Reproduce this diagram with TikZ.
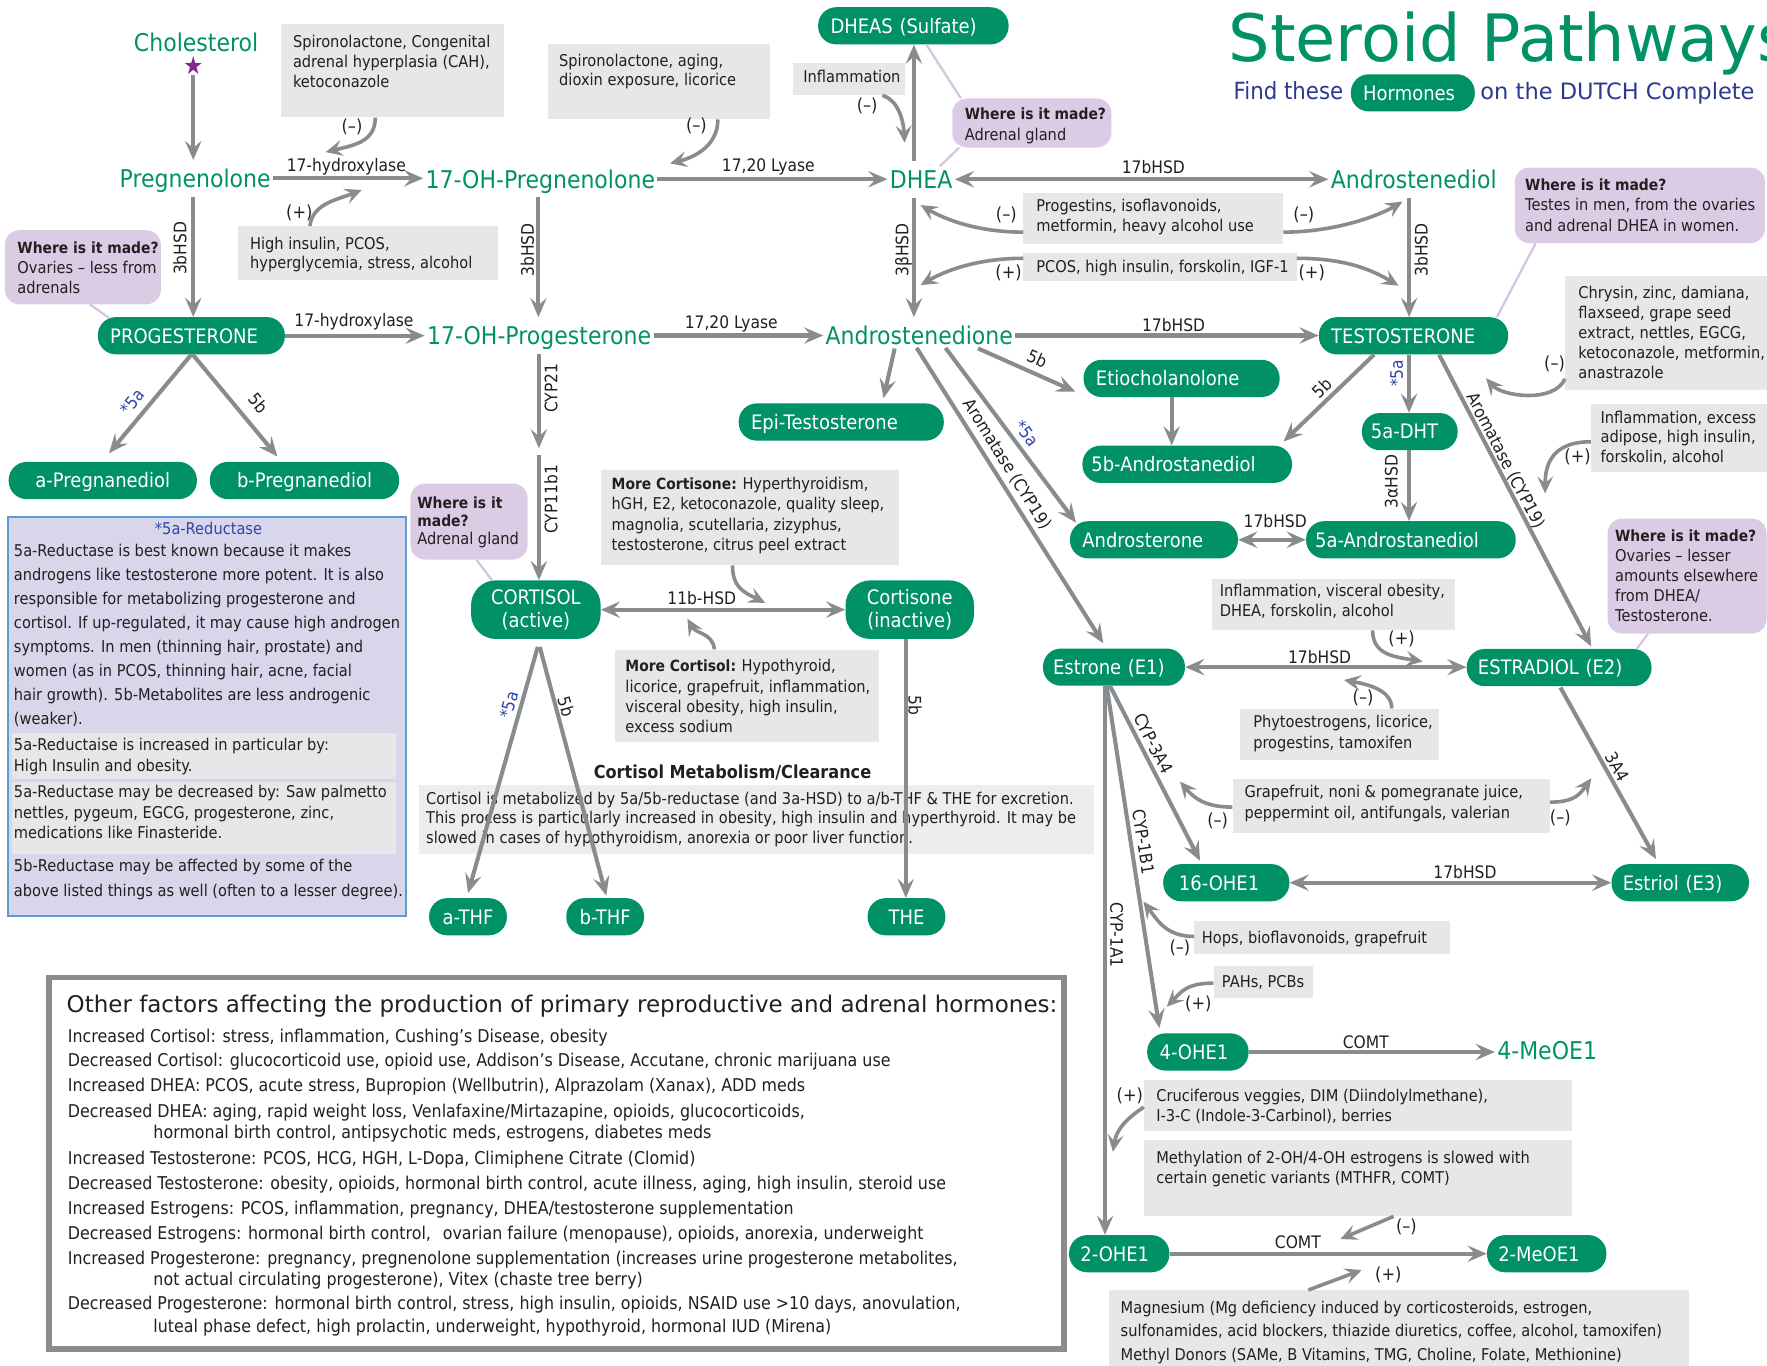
\documentclass[tikz,border=0pt]{standalone}
\usepackage{fontspec}
\setmainfont{DejaVu Sans}[FakeStretch=0.9]
\newfontfamily\widefont{DejaVu Sans}
\usetikzlibrary{arrows.meta}
\definecolor{dgreen}{RGB}{0,146,102}
\definecolor{agray}{RGB}{137,140,143}
\definecolor{boxgray}{RGB}{230,231,232}
\definecolor{boxgraylt}{RGB}{237,237,237}
\definecolor{lpurple}{RGB}{220,203,229}
\definecolor{ppline}{RGB}{214,196,227}
\definecolor{bfill}{RGB}{216,214,234}
\definecolor{bborder}{RGB}{91,155,213}
\definecolor{dblue}{RGB}{43,57,144}
\definecolor{lblue}{RGB}{46,70,170}
\definecolor{starpurple}{RGB}{128,40,140}
\definecolor{framegray}{RGB}{140,140,140}
\definecolor{txt}{RGB}{35,31,32}
\newcommand\fsz[2]{\fontsize{#1}{#2}\selectfont}
\newcommand\lns[1]{\begin{tabular}[t]{@{}l@{}}#1\end{tabular}}
\newcommand\wim{{\fontsize{13.7}{17}\selectfont\bfseries Where is it made?}}
\newcommand\bld[1]{{\fontsize{13.7}{17}\selectfont\bfseries #1}}
\tikzset{
  gtext/.style={anchor=base, text=dgreen, font=\fsz{21.7}{24}, inner xsep=2pt, inner ysep=2pt, text height=22pt, text depth=6pt},
  pillbase/.style={fill=dgreen, text=white, font=\fsz{17.7}{20}, inner xsep=11pt, inner ysep=0pt, rounded corners=16pt, minimum height=33pt},
  pill/.style={pillbase, align=left, text height=15pt, text depth=2pt},
  pillc/.style={pillbase, align=center, text height=15pt, text depth=2pt},
  pilltwo/.style={pillbase, align=center, minimum height=52pt, rounded corners=22pt},
  arr/.style={draw=agray, line width=3.6pt, ->},
  darr/.style={draw=agray, line width=3.6pt, <->},
  marr/.style={draw=agray, line width=3.2pt, >={Stealth[length=15pt,width=14pt,inset=6pt]}, ->},
  lbl/.style={text=txt, font=\fsz{15.3}{17}, inner sep=0pt},
  blbl/.style={lbl, text=lblue},
  sgn/.style={text=txt, font=\fsz{16}{18}, inner sep=0pt},
  bg/.style={fill=boxgray, anchor=north west, inner sep=0pt},
  pbg/.style={fill=lpurple, anchor=north west, inner sep=0pt, rounded corners=13pt},
  btx/.style={text=txt, anchor=base west, inner sep=0pt, font=\fsz{14.4}{17.7}},
  ftx/.style={text=txt, anchor=base west, inner sep=0pt, font=\fsz{15.65}{19}},
  pline/.style={draw=ppline, line width=2pt},
}
\begin{document}
\begin{tikzpicture}[x=1pt,y=-1pt,>={Stealth[length=17pt,width=14.5pt,inset=6.5pt]}]
\useasboundingbox (0,0) rectangle (1568,1212);
\fill[white] (0,0) rectangle (1568,1212);

% ---------- title ----------
\node[anchor=base west, inner sep=0pt, text=dgreen, font=\widefont\fsz{58}{60}] (title) at (1090,54.7) {Steroid Pathways};
\node[anchor=base west, inner sep=0pt, text=dblue, font=\fsz{21}{24}] (subA) at (1094.5,88.7) {Find these};
\node[pill, text width=88pt] (horm) at (1253.7,82.4) {Hormones};
\node[anchor=base west, inner sep=0pt, text=dblue, font=\widefont\fsz{20}{24}] (subB) at (1313.5,88.7) {on the DUTCH Complete};

% ---------- frames ----------
\node[draw=framegray, line width=5pt, anchor=north west, inner sep=0pt, minimum width=900.5pt, minimum height=329.5pt] (fbox) at (41,865) {};
\node[draw=bborder, line width=2pt, fill=bfill, anchor=north west, inner sep=0pt, minimum width=353pt, minimum height=354pt] (bluebox) at (6.1,458) {};
\node[bg, minimum width=341.3pt, minimum height=40.7pt] (rb1) at (10.2,650) {};
\node[bg, minimum width=341.3pt, minimum height=64.2pt] (rb2) at (10.2,693.6) {};

% ---------- gray boxes ----------
\node[bg, minimum width=198pt, minimum height=83pt] (g1) at (249,21) {};
\node[bg, minimum width=197.5pt, minimum height=66.6pt] (g2) at (486,39) {};
\node[bg, minimum width=99.5pt, minimum height=29pt] (g3) at (703.2,55.3) {};
\node[bg, minimum width=231pt, minimum height=47.4pt] (g4) at (210.6,200.5) {};
\node[bg, minimum width=230.4pt, minimum height=45.2pt] (g5) at (908,170.7) {};
\node[bg, minimum width=242.3pt, minimum height=25.1pt] (g6) at (908,223.9) {};
\node[bg, minimum width=180pt, minimum height=101pt] (g7) at (1388.7,244.6) {};
\node[bg, minimum width=157pt, minimum height=60.7pt] (g8) at (1411.7,357.9) {};
\node[bg, minimum width=264.3pt, minimum height=84.9pt] (g9) at (533.3,416.5) {};
\node[bg, minimum width=234.4pt, minimum height=82pt] (g10) at (545.2,576.2) {};
\node[bg, fill=boxgraylt, minimum width=599pt, minimum height=61.2pt] (g11) at (372,696.6) {};
\node[bg, minimum width=216pt, minimum height=45.8pt] (g12) at (1075,513.2) {};
\node[bg, minimum width=176.3pt, minimum height=45.8pt] (g13) at (1100.4,628.6) {};
\node[bg, minimum width=281.4pt, minimum height=48.3pt] (g14) at (1093.6,690.7) {};
\node[bg, minimum width=227.1pt, minimum height=29.3pt] (g15) at (1059.6,817.3) {};
\node[bg, minimum width=88.2pt, minimum height=28.7pt] (g16) at (1076.7,856.6) {};
\node[bg, minimum width=380pt, minimum height=45pt] (g17) at (1015,958.4) {};
\node[bg, minimum width=380pt, minimum height=67.4pt] (g18) at (1015,1011.6) {};
\node[bg, minimum width=515.1pt, minimum height=75pt] (g19) at (983.7,1144.7) {};

% ---------- purple boxes ----------
\node[pbg, minimum width=138.5pt, minimum height=65.7pt] (p1) at (4.1,204.1) {};
\node[pbg, minimum width=141.2pt, minimum height=43.5pt] (p2) at (844.8,87.2) {};
\node[pbg, minimum width=222pt, minimum height=67pt] (p3) at (1344,148.5) {};
\node[pbg, minimum width=104pt, minimum height=67.4pt] (p4) at (364,428.9) {};
\node[pbg, minimum width=141pt, minimum height=102pt] (p5) at (1426.4,460) {};

% ---------- box texts ----------
\node[btx] (g1t) at (259.8,42.4) {\lns{Spironolactone, Congenital\\adrenal hyperplasia (CAH),\\ketoconazole}};
\node[btx, font=\fsz{14.4}{17}] (g2t) at (496,58.6) {\lns{Spironolactone, aging,\\dioxin exposure, licorice}};
\node[btx] (g3t) at (712.7,73.5) {Inflammation};
\node[btx] (g4t) at (221.8,221) {\lns{High insulin, PCOS,\\hyperglycemia, stress, alcohol}};
\node[btx] (g5t) at (919.5,187.9) {\lns{Progestins, isoflavonoids,\\metformin, heavy alcohol use}};
\node[btx] (g6t) at (919.5,242) {PCOS, high insulin, forskolin, IGF-1};
\node[btx] (g7t) at (1400.5,264.8) {\lns{Chrysin, zinc, damiana,\\flaxseed, grape seed\\extract, nettles, EGCG,\\ketoconazole, metformin,\\anastrazole}};
\node[btx, font=\fsz{14.4}{17.3}] (g8t) at (1420.1,375.7) {\lns{Inflammation, excess\\adipose, high insulin,\\forskolin, alcohol}};
\node[btx, font=\fsz{14.4}{18.2}] (g9t) at (542.6,434.3) {\lns{\bld{More Cortisone:}\hspace{5pt}Hyperthyroidism,\\hGH, E2, ketoconazole, quality sleep,\\magnolia, scutellaria, zizyphus,\\testosterone, citrus peel extract}};
\node[btx, font=\fsz{14.4}{18}] (g10t) at (554.8,596.1) {\lns{\bld{More Cortisol:}\hspace{5pt}Hypothyroid,\\licorice, grapefruit, inflammation,\\visceral obesity, high insulin,\\excess sodium}};
\node[btx, font=\fsz{14.4}{17.5}] (g11t) at (378,713.5) {\lns{Cortisol is metabolized by 5a/5b-reductase (and 3a-HSD) to a/b-THF \& THE for excretion.\\This process is particularly increased in obesity, high insulin and hyperthyroid. It may be\\slowed in cases of hypothyroidism, anorexia or poor liver function.}};
\node[btx] (g12t) at (1082.2,529.5) {\lns{Inflammation, visceral obesity,\\DHEA, forskolin, alcohol}};
\node[btx, font=\fsz{14.4}{18.3}] (g13t) at (1111.9,645.8) {\lns{Phytoestrogens, licorice,\\progestins, tamoxifen}};
\node[btx, font=\fsz{14.4}{18.3}] (g14t) at (1104.2,707.9) {\lns{Grapefruit, noni \& pomegranate juice,\\peppermint oil, antifungals, valerian}};
\node[btx] (g15t) at (1066.4,837.2) {Hops, bioflavonoids, grapefruit};
\node[btx] (g16t) at (1084.1,876.5) {PAHs, PCBs};
\node[btx] (g17t) at (1025.9,977.7) {\lns{Cruciferous veggies, DIM (Diindolylmethane),\\I-3-C (Indole-3-Carbinol), berries}};
\node[btx] (g18t) at (1025.9,1032.4) {\lns{Methylation of 2-OH/4-OH estrogens is slowed with\\certain genetic variants (MTHFR, COMT)}};
\node[btx, font=\fsz{14.4}{20.7}] (g19t) at (994.3,1165.5) {\lns{Magnesium (Mg deficiency induced by corticosteroids, estrogen,\\sulfonamides, acid blockers, thiazide diuretics, coffee, alcohol, tamoxifen)\\Methyl Donors (SAMe, B Vitamins, TMG, Choline, Folate, Methionine)}};

\node[btx, font=\fsz{14.4}{17.75}] (p1t) at (15.3,224.9) {\lns{\wim\\Ovaries – less from\\adrenals}};
\node[btx, font=\fsz{14.4}{18.6}] (p2t) at (856,105.7) {\lns{\wim\\Adrenal gland}};
\node[btx, font=\fsz{14.4}{17.85}] (p3t) at (1353.2,169.3) {\lns{\wim\\Testes in men, from the ovaries\\and adrenal DHEA in women.}};
\node[btx, font=\fsz{14.4}{16}] (p4t) at (370.2,451.2) {\lns{\bld{Where is it}\\\bld{made?}\\Adrenal gland}};
\node[btx, font=\fsz{14.4}{17.9}] (p5t) at (1433,480.1) {\lns{\wim\\Ovaries – lesser\\amounts elsewhere\\from DHEA/\\Testosterone.}};

\node[anchor=base, inner sep=0pt, text=lblue, font=\fsz{14.4}{17}] (btitle) at (185,474) {*5a-Reductase};
\node[btx, font=\fsz{14.4}{21.26}] (bt1) at (12.2,494) {\lns{5a-Reductase is best known because it makes\\androgens like testosterone more potent. It is also\\responsible for metabolizing progesterone and\\cortisol. If up-regulated, it may cause high androgen\\symptoms. In men (thinning hair, prostate) and\\women (as in PCOS, thinning hair, acne, facial\\hair growth). 5b-Metabolites are less androgenic\\(weaker).}};
\node[btx, font=\fsz{14.4}{18.1}] (bt2) at (12.2,666.2) {\lns{5a-Reductaise is increased in particular by:\\High Insulin and obesity.}};
\node[btx, font=\fsz{14.4}{18.3}] (bt3) at (12.2,707.9) {\lns{5a-Reductase may be decreased by: Saw palmetto\\nettles, pygeum, EGCG, progesterone, zinc,\\medications like Finasteride.}};
\node[btx, font=\fsz{14.4}{22.3}] (bt4) at (12.2,773.5) {\lns{5b-Reductase may be affected by some of the\\above listed things as well (often to a lesser degree).}};

\node[anchor=base, inner sep=0pt, text=txt, font=\fsz{15.9}{18}\bfseries] (cmhead) at (650,690.5) {Cortisol Metabolism/Clearance};

% ---------- factors list ----------
\node[anchor=base west, inner sep=0pt, text=txt, font=\widefont\fsz{20.4}{22}] (fhead) at (59,898.6) {Other factors affecting the production of primary reproductive and adrenal hormones:};
\node[ftx] (f1) at (60.1,925.3) {Increased Cortisol: stress, inflammation, Cushing’s Disease, obesity};
\node[ftx] (f2) at (60.1,946.6) {Decreased Cortisol: glucocorticoid use, opioid use, Addison’s Disease, Accutane, chronic marijuana use};
\node[ftx] (f3) at (60.1,969) {Increased DHEA: PCOS, acute stress, Bupropion (Wellbutrin), Alprazolam (Xanax), ADD meds};
\node[ftx] (f4) at (60.1,991.2) {Decreased DHEA: aging, rapid weight loss, Venlafaxine/Mirtazapine, opioids, glucocorticoids,};
\node[ftx] (f5) at (136,1010.1) {hormonal birth control, antipsychotic meds, estrogens, diabetes meds};
\node[ftx] (f6) at (60.1,1033.2) {Increased Testosterone: PCOS, HCG, HGH, L-Dopa, Climiphene Citrate (Clomid)};
\node[ftx] (f7) at (60.1,1055.3) {Decreased Testosterone: obesity, opioids, hormonal birth control, acute illness, aging, high insulin, steroid use};
\node[ftx] (f8) at (60.1,1077.6) {Increased Estrogens: PCOS, inflammation, pregnancy, DHEA/testosterone supplementation};
\node[ftx] (f9) at (60.1,1099.7) {Decreased Estrogens: hormonal birth control,\hspace{6pt} ovarian failure (menopause), opioids, anorexia, underweight};
\node[ftx] (f10) at (60.1,1121.9) {Increased Progesterone: pregnancy, pregnenolone supplementation (increases urine progesterone metabolites,};
\node[ftx] (f11) at (136,1140.5) {not actual circulating progesterone), Vitex (chaste tree berry)};
\node[ftx] (f12) at (60.1,1161.9) {Decreased Progesterone: hormonal birth control, stress, high insulin, opioids, NSAID use >10 days, anovulation,};
\node[ftx] (f13) at (136,1182) {luteal phase defect, high prolactin, underweight, hypothyroid, hormonal IUD (Mirena)};

% ---------- green text hormones ----------
\node[gtext] (chol) at (174,46) {Cholesterol};
\node[text=starpurple, font=\fsz{22}{22}, inner sep=0pt] (star) at (171.5,58.3) {★};
\node[gtext] (preg) at (173.2,166.2) {Pregnenolone};
\node[gtext] (ohpreg) at (479.5,167) {17-OH-Pregnenolone};
\node[gtext] (dhea) at (817.4,167.1) {DHEA};
\node[gtext] (adiol) at (1254.5,167.1) {Androstenediol};
\node[gtext] (ohprog) at (478.4,305.7) {17-OH-Progesterone};
\node[gtext] (adione) at (815.7,305.7) {Androstenedione};
\node[gtext] (meoe4) at (1372.9,940.6) {4-MeOE1};

% ---------- pills ----------
\node[pill, text width=147pt] (dheas) at (810.5,22.9) {DHEAS (Sulfate)};
\node[pill, text width=144pt] (prog) at (169.8,297.9) {PROGESTERONE};
\node[pillc, text width=145pt] (apreg) at (91.2,426.4) {a-Pregnanediol};
\node[pillc, text width=146pt] (bpreg) at (270.2,426.4) {b-Pregnanediol};
\node[pill, text width=146pt] (testo) at (1254.3,298) {TESTOSTERONE};
\node[pill, text width=152pt] (etio) at (1048.5,335.8) {Etiocholanolone};
\node[pill, text width=160pt] (epit) at (746.5,374.5) {Epi-Testosterone};
\node[pill, inner xsep=8pt, text width=170pt] (bandro) at (1053.5,412) {5b-Androstanediol};
\node[pill, inner xsep=8pt, text width=69pt] (dht) at (1251,383) {5a-DHT};
\node[pill, text width=127pt] (andro) at (1024,479) {Androsterone};
\node[pill, inner xsep=8pt, text width=170pt] (aandro) at (1252,479) {5a-Androstanediol};
\node[pilltwo, text width=93pt] (cortisol) at (475.5,541) {CORTISOL\\(active)};
\node[pilltwo, text width=92pt] (cortisone) at (807.3,541) {Cortisone\\(inactive)};
\node[pill, inner xsep=9pt, text width=108pt] (e1) at (988.5,592) {Estrone (E1)};
\node[pill, inner xsep=10pt, text width=144pt] (e2) at (1383.5,592.4) {ESTRADIOL (E2)};
\node[pill, inner xsep=14pt, text width=84pt] (ohe16) at (1088.2,783.3) {16-OHE1};
\node[pill, inner xsep=10pt, text width=102pt] (e3) at (1491,783.3) {Estriol (E3)};
\node[pillc, inner xsep=5pt, text width=59pt] (athf) at (415.3,813.5) {a-THF};
\node[pillc, inner xsep=5pt, text width=59pt] (bthf) at (537,813.5) {b-THF};
\node[pillc, inner xsep=5pt, text width=59pt] (thenode) at (804.4,813.5) {THE};
\node[pill, text width=68pt] (ohe4) at (1063,933.5) {4-OHE1};
\node[pill, inner xsep=10pt, text width=69pt] (ohe2) at (993.2,1112.5) {2-OHE1};
\node[pill, inner xsep=10pt, text width=86pt] (meoe2) at (1372.5,1112.5) {2-MeOE1};

% ---------- pointer lines ----------
\draw[pline] ([xshift=75.7pt]p1.south west) -- ([xshift=10.2pt,yshift=-0.9pt]prog.north west);
\draw[pline] ([xshift=11.5pt]dheas.south) -- ([xshift=7.8pt]p2.north west);
\draw[pline] ([xshift=6.2pt]p2.south west) -- ([xshift=16.5pt,yshift=-4.8pt]dhea.north);
\draw[pline] ([xshift=18.7pt]p3.south west) -- ([xshift=74pt]testo.north);
\draw[pline] ([xshift=58.8pt]p4.south west) -- ([xshift=-39pt]cortisol.north);
\draw[pline] ([xshift=36pt]p5.south west) -- ([xshift=69pt]e2.north);

% ---------- main arrows ----------
\draw[arr] (star.south) -- (star.south |- preg.north);
\draw[arr] (preg.east) -- (preg.east -| ohpreg.west);
\draw[arr] (ohpreg.east) -- (ohpreg.east -| dhea.west);
\draw[darr] (dhea.east) -- (dhea.east -| adiol.west);
\draw[arr] ([xshift=-1.7pt]preg.south) -- ([xshift=-1.7pt]preg.south |- prog.north);
\draw[arr] ([xshift=-1.7pt]ohpreg.south) -- ([xshift=-1.7pt]ohpreg.south |- ohprog.north);
\draw[arr] ([xshift=-6.4pt]dhea.south) -- ([xshift=-6.4pt]dhea.south |- adione.north);
\draw[arr] ([xshift=-6.4pt]dhea.north) -- ([xshift=-6.4pt]dhea.north |- dheas.south);
\draw[arr] ([xshift=-4.1pt]adiol.south) -- ([xshift=-4.1pt]adiol.south |- testo.north);
\draw[arr] (prog.east) -- (prog.east -| ohprog.west);
\draw[arr] (ohprog.east) -- (ohprog.east -| adione.west);
\draw[arr] (adione.east) -- (adione.east -| testo.west);
\draw[arr] (prog.south) -- ([xshift=5.6pt,yshift=7.6pt]apreg.north);
\draw[arr] ([xshift=1.2pt]prog.south) -- ([xshift=-24pt,yshift=4.6pt]bpreg.north);
\coordinate (c21) at (478.2,397.8);
\coordinate (c11) at (478.2,404);
\draw[arr] ([xshift=-0.2pt]ohprog.south) -- (c21);
\draw[arr] (c11) -- (c11 |- cortisol.north);
\draw[darr] (cortisol.east) -- (cortisol.east -| cortisone.west);
\draw[arr] ([xshift=1.7pt,yshift=-6.8pt]cortisol.south) -- ([yshift=4.3pt]athf.north);
\draw[arr] ([xshift=3.5pt,yshift=-7pt]cortisol.south) -- ([xshift=1pt,yshift=2pt]bthf.north);
\draw[arr] ([xshift=-3.5pt]cortisone.south) -- ([xshift=-3.5pt]cortisone.south |- thenode.north);
\draw[arr] ([xshift=-21.8pt,yshift=4.6pt]adione.south) -- ([xshift=37.5pt,yshift=4.5pt]epit.north);
\draw[arr] ([xshift=52.2pt,yshift=4.7pt]adione.south) -- ([xshift=-7pt,yshift=-11.8pt]etio.west);
\draw[arr] ([xshift=23.3pt,yshift=5.2pt]adione.south) -- ([xshift=5.5pt,yshift=-1.5pt]andro.north west);
\draw[arr] ([xshift=-2.3pt,yshift=5.2pt]adione.south) -- ([xshift=-9.5pt,yshift=4.5pt]e1.north);
\draw[arr] ([xshift=-8.8pt]etio.south) -- ([xshift=-8.8pt]etio.south |- bandro.north);
\draw[arr] ([xshift=-35pt]testo.south) -- ([xshift=85.5pt,yshift=3.5pt]bandro.north);
\draw[arr] ([xshift=-4pt]testo.south) -- ([xshift=-4pt]testo.south |- dht.north);
\draw[arr] ([xshift=-0.7pt]dht.south) -- ([xshift=-0.7pt]dht.south |- aandro.north);
\draw[darr] (andro.east) -- (andro.east -| aandro.west);
\draw[arr] ([xshift=22.7pt]testo.south) -- ([xshift=28.5pt,yshift=2pt]e2.north);
\draw[darr] (e1.east) -- (e1.east -| e2.west);
\draw[arr] ([xshift=1.2pt,yshift=-1pt]e2.south) -- ([xshift=-21.5pt,yshift=4.3pt]e3.north);
\draw[arr] ([xshift=-3.5pt]e1.south) -- ([xshift=-23.3pt,yshift=2.8pt]ohe16.north);
\draw[arr] ([xshift=-6.5pt]e1.south) -- ([xshift=-34.2pt,yshift=4.5pt]ohe4.north);
\draw[arr] ([xshift=-7.9pt]e1.south) -- ([xshift=-7.9pt]e1.south |- ohe2.north);
\draw[darr] (ohe16.east) -- (ohe16.east -| e3.west);
\draw[arr] (ohe4.east) -- (ohe4.east -| meoe4.west);
\draw[arr] (ohe2.east) -- (ohe2.east -| meoe2.west);

% ---------- edge labels ----------
\node[lbl] (l1) at (307.3,148) {17-hydroxylase};
\node[lbl] (l2) at (681.8,147.9) {17,20 Lyase};
\node[lbl] (l3) at (1023.5,147.9) {17bHSD};
\node[lbl, rotate=90] (l4) at (159.6,220.4) {3bHSD};
\node[lbl, rotate=90] (l5) at (468,221.8) {3bHSD};
\node[lbl, rotate=90] (l6) at (801.7,221.8) {3βHSD};
\node[lbl, rotate=90] (l7) at (1261.2,221.8) {3bHSD};
\node[lbl] (l8) at (314.1,285.5) {17-hydroxylase};
\node[lbl] (l9) at (648.9,287) {17,20 Lyase};
\node[lbl] (l10) at (1041.4,288.4) {17bHSD};
\node[blbl, rotate=50] (l11) at (117.2,356.4) {*5a};
\node[lbl, rotate=-50] (l12) at (229.2,357.9) {5b};
\node[lbl, rotate=90] (l13) at (489,344.6) {CYP21};
\node[lbl, rotate=90] (l14) at (489,443) {CYP11b1};
\node[lbl] (l15) at (622.7,531) {11b-HSD};
\node[blbl, rotate=74] (l16) at (451.7,625.6) {*5a};
\node[lbl, rotate=-75] (l17) at (502.6,627) {5b};
\node[lbl, rotate=-90] (l18) at (811.9,625.6) {5b};
\node[lbl, rotate=-24] (l19) at (920.5,318) {5b};
\node[blbl, rotate=-53] (l20) at (911,384.5) {*5a};
\node[lbl, rotate=-58] (l21) at (893.6,411.8) {Aromatase (CYP19)};
\node[lbl, rotate=44] (l22) at (1173.4,344.6) {5b};
\node[blbl, rotate=90] (l23) at (1239.3,331.3) {*5a};
\node[lbl, rotate=90] (l24) at (1234.6,427.4) {3αHSD};
\node[lbl] (l25) at (1131.6,462.3) {17bHSD};
\node[lbl, rotate=-62.5] (l26) at (1336,408.5) {Aromatase (CYP19)};
\node[lbl] (l27) at (1171,582.7) {17bHSD};
\node[lbl, rotate=-61] (l28) at (1435.3,680.3) {3A4};
\node[lbl, rotate=-63] (l29) at (1023.5,659.6) {CYP-3A4};
\node[lbl, rotate=-81] (l30) at (1014.6,747) {CYP-1B1};
\node[lbl, rotate=-90] (l31) at (990.9,829.7) {CYP-1A1};
\node[lbl] (l32) at (1300,773.5) {17bHSD};
\node[lbl] (l33) at (1212,924.4) {COMT};
\node[lbl] (l34) at (1151.7,1102.7) {COMT};

% ---------- modifier arrows ----------
\coordinate (m1) at (289,135);
\coordinate (m2) at (321,168.6);
\coordinate (m3) at (594.6,145);
\coordinate (m4) at (802.7,126.6);
\coordinate (m5) at (817,182);
\coordinate (m6) at (1244.4,179);
\coordinate (m7) at (817,253);
\coordinate (m8) at (1241,253.5);
\coordinate (m9) at (1318.7,335.7);
\coordinate (m10) at (1371.1,437.8);
\coordinate (m11) at (679,535);
\coordinate (m12) at (610,549);
\coordinate (m13) at (1262.4,587);
\coordinate (m14) at (1192.6,603.4);
\coordinate (m15) at (1047.1,693.6);
\coordinate (m16) at (1412,690.7);
\coordinate (m17) at (1014.6,800);
\coordinate (m18) at (1035.3,893.3);
\coordinate (m19) at (987.6,1022);
\coordinate (m20) at (1189.4,1099.5);
\coordinate (m21) at (1208.3,1127);
\draw[marr] ([xshift=84pt]g1.south west) .. controls +(0,22) and +(24,-6) .. (m1);
\draw[marr] ([xshift=64.4pt]g4.north west) .. controls +(2,-20) and +(-20,8) .. (m2);
\draw[marr] ([xshift=151pt]g2.south west) .. controls +(0,22) and +(24,-6) .. (m3);
\draw[marr] ([xshift=79.8pt]g3.south west) .. controls +(14,4) and +(-1,-20) .. (m4);
\draw[marr] ([yshift=10.3pt]g5.south west) .. controls +(-40,0) and +(22,13) .. (m5);
\draw[marr] ([yshift=10.3pt]g5.south east) .. controls +(45,0) and +(-22,13) .. (m6);
\draw[marr] ([yshift=-5.3pt]g6.north west) .. controls +(-40,0) and +(22,-13) .. (m7);
\draw[marr] ([yshift=-5.3pt]g6.north east) .. controls +(45,0) and +(-22,-13) .. (m8);
\draw[marr] ([yshift=9.8pt]g7.south west) .. controls +(-10,22) and +(14,16) .. (m9);
\draw[marr] ([yshift=-34.1pt]g8.north west) .. controls +(-35,0) and +(0,-25) .. (m10);
\draw[marr] ([xshift=116.7pt]g9.south west) .. controls +(0,20) and +(-18,-9) .. (m11);
\draw[marr] ([xshift=88.8pt]g10.north west) .. controls +(-2,-15) and +(8,14) .. (m12);
\draw[marr] ([xshift=143pt]g12.south west) .. controls +(0,22) and +(-24,-4) .. (m13);
\draw[marr] ([xshift=134.6pt]g13.north west) .. controls +(0,-16) and +(22,4) .. (m14);
\draw[marr] ([yshift=23.2pt]g14.south west) .. controls +(-25,0) and +(12,14) .. (m15);
\draw[marr] ([yshift=27.6pt]g14.south east) .. controls +(22,0) and +(-10,14) .. (m16);
\draw[marr] ([yshift=16pt]g15.south west) .. controls +(-25,0) and +(12,16) .. (m17);
\draw[marr] ([yshift=13.3pt]g16.south west) .. controls +(-25,0) and +(12,-12) .. (m18);
\draw[marr] ([yshift=21.4pt]g17.south west) .. controls +(-15,10) and +(3,-20) .. (m19);
\draw[marr] ([xshift=221.6pt]g18.south west) -- (m20);
\draw[marr] ([xshift=177.3pt]g19.north west) -- (m21);

% ---------- signs ----------
\node[sgn] (s1) at (312.4,112.4) {(–)};
\node[sgn] (s2) at (265.6,189.3) {(+)};
\node[sgn] (s3) at (618,112) {(–)};
\node[sgn] (s4) at (769.5,94) {(–)};
\node[sgn] (s5) at (893,190.8) {(–)};
\node[sgn] (s6) at (1157,190.8) {(–)};
\node[sgn] (s7) at (895,242.5) {(+)};
\node[sgn] (s8) at (1164,242.5) {(+)};
\node[sgn] (s9) at (1379.5,323) {(–)};
\node[sgn] (s10) at (1399.9,405.8) {(+)};
\node[sgn] (s11) at (1243.7,567) {(+)};
\node[sgn] (s12) at (1209.6,619.5) {(–)};
\node[sgn] (s13) at (1080.5,728.3) {(–)};
\node[sgn] (s14) at (1384.6,725.3) {(–)};
\node[sgn] (s15) at (1047,841.5) {(–)};
\node[sgn] (s16) at (1063.4,891) {(+)};
\node[sgn] (s17) at (1002.6,972.6) {(+)};
\node[sgn] (s18) at (1248,1089) {(–)};
\node[sgn] (s19) at (1232,1131.5) {(+)};
\end{tikzpicture}
\end{document}
